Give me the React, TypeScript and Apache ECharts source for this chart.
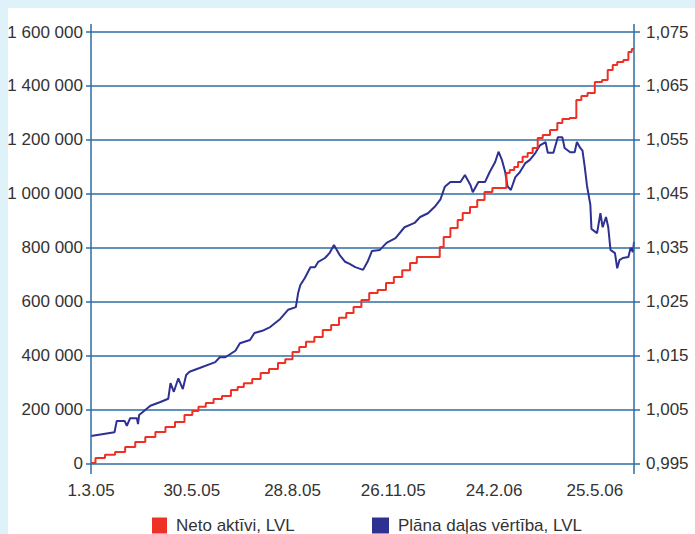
import React, { useEffect, useRef } from 'react';
import * as echarts from 'echarts';

// Day offsets are counted from 1.3.2005
const START_DATE = Date.UTC(2005, 2, 1);
const X_MAX_DAY = 485;
const X_TICK_STEP = 90;

const redName = 'Neto aktīvi, LVL';
const blueName = 'Plāna daļas vērtība, LVL';

const redDays = [0, 8, 17, 26, 35, 44, 53, 62, 71, 79, 88, 93, 99, 106, 113, 121, 129, 133, 140, 148, 155, 163, 171, 176, 184, 188, 196, 203, 211, 218, 225, 231, 238, 245, 252, 260, 267, 274, 282, 288, 294, 310, 313, 317, 325, 330, 334, 343, 347, 356, 361, 370, 372, 376, 380, 383, 388, 392, 397, 401, 406, 414, 419, 423, 432, 435, 441, 446, 454, 459, 464, 468, 472, 479, 481, 485];
const redValues = [2000, 20000, 32000, 43000, 61000, 80000, 98000, 117000, 135000, 154000, 180000, 195000, 210000, 224000, 239000, 250000, 273000, 284000, 298000, 313000, 336000, 350000, 373000, 387000, 413000, 432000, 451000, 469000, 495000, 514000, 540000, 558000, 580000, 606000, 632000, 643000, 669000, 692000, 717000, 743000, 766000, 766000, 803000, 840000, 873000, 903000, 929000, 951000, 977000, 1007000, 1022000, 1022000, 1077000, 1088000, 1099000, 1118000, 1137000, 1151000, 1170000, 1207000, 1218000, 1237000, 1263000, 1277000, 1281000, 1348000, 1363000, 1374000, 1415000, 1422000, 1459000, 1478000, 1489000, 1496000, 1526000, 1537000];

const blueDays = [0, 21, 23, 30, 32, 35, 41, 42, 43, 46, 53, 62, 69, 71, 74, 78, 82, 85, 88, 97, 111, 115, 120, 129, 133, 142, 146, 153, 160, 169, 176, 183, 185, 187, 191, 196, 200, 203, 209, 213, 217, 222, 227, 231, 236, 243, 247, 251, 258, 264, 272, 280, 289, 294, 301, 307, 312, 316, 321, 330, 334, 339, 341, 346, 352, 356, 361, 364, 367, 370, 372, 375, 379, 383, 388, 392, 397, 401, 406, 408, 413, 417, 421, 423, 428, 432, 434, 437, 439, 441, 443, 446, 447, 452, 455, 457, 460, 462, 464, 468, 470, 472, 475, 480, 482, 484, 485];
const blueValues = [1.0001, 1.0008, 1.0029, 1.0029, 1.0020, 1.0034, 1.0034, 1.0023, 1.0040, 1.0045, 1.0057, 1.0064, 1.0070, 1.0099, 1.0083, 1.0108, 1.0088, 1.0114, 1.0120, 1.0127, 1.0138, 1.0147, 1.0147, 1.0159, 1.0173, 1.0179, 1.0192, 1.0196, 1.0203, 1.0218, 1.0235, 1.0240, 1.0266, 1.0281, 1.0294, 1.0314, 1.0314, 1.0324, 1.0331, 1.0340, 1.0355, 1.0337, 1.0324, 1.0320, 1.0314, 1.0309, 1.0324, 1.0344, 1.0346, 1.0359, 1.0368, 1.0388, 1.0396, 1.0407, 1.0414, 1.0426, 1.0439, 1.0463, 1.0472, 1.0472, 1.0485, 1.0466, 1.0453, 1.0472, 1.0472, 1.0490, 1.0509, 1.0528, 1.0513, 1.0490, 1.0464, 1.0457, 1.0481, 1.0490, 1.0507, 1.0513, 1.0526, 1.0540, 1.0546, 1.0526, 1.0526, 1.0555, 1.0555, 1.0535, 1.0527, 1.0527, 1.0546, 1.0535, 1.0530, 1.0500, 1.0465, 1.0430, 1.0385, 1.0377, 1.0414, 1.0388, 1.0407, 1.0388, 1.0346, 1.0340, 1.0312, 1.0327, 1.0331, 1.0333, 1.0350, 1.0342, 1.0361];

const leftMin = 0;
const leftMax = 1600000;
const leftStep = 200000;
const rightMin = 0.995;
const rightMax = 1.075;
const rightStep = 0.01;

const FONT = "'Liberation Sans', Arial, sans-serif";
const TEXT = '#333333';
const GRID_BLUE = '#2e6ca3';
const RED = '#ee3124';
const NAVY = '#2e3192';
const PANEL_BG = '#dff1f9';

const CHART_W = 687;
const CHART_H = 526;
const G_LEFT = 83;
const G_RIGHT = 61;
const G_TOP = 24;
const G_BOTTOM = 70.5;

function fmtDay(day: number): string {
  const d = new Date(START_DATE + day * 86400000);
  return `${d.getUTCDate()}.${d.getUTCMonth() + 1}.${String(d.getUTCFullYear()).slice(2)}`;
}

function fmtThousands(v: number): string {
  return String(Math.round(v)).replace(/\B(?=(\d{3})+(?!\d))/g, ' ');
}

export default function App() {
  const ref = useRef<HTMLDivElement>(null);

  useEffect(() => {
    document.body.style.margin = '0';
    document.body.style.overflow = 'hidden';
    if (!ref.current) return;
    const chart = echarts.init(ref.current, undefined, { renderer: 'svg' });

    const axisX1 = G_LEFT;
    const axisX2 = CHART_W - G_RIGHT;
    const lineTop = G_TOP - 8;
    const lineBottom = CHART_H - G_BOTTOM + 10.5;

    const legendText = {
      fontSize: 17,
      lineHeight: 16,
      color: TEXT,
      fontFamily: FONT,
      padding: [0, 0, 0, 4],
    };

    chart.setOption({
      animation: false,
      backgroundColor: '#ffffff',
      textStyle: { fontFamily: FONT },
      grid: {
        left: G_LEFT,
        right: G_RIGHT,
        top: G_TOP,
        bottom: G_BOTTOM,
        containLabel: false,
        outerBoundsMode: 'none',
      },
      legend: [
        {
          data: [redName],
          left: 144,
          top: 509,
          padding: 0,
          icon: 'rect',
          itemWidth: 15,
          itemHeight: 16,
          selectedMode: false,
          textStyle: legendText,
        },
        {
          data: [blueName],
          left: 364,
          top: 509,
          padding: 0,
          icon: 'rect',
          itemWidth: 17,
          itemHeight: 16,
          selectedMode: false,
          textStyle: legendText,
        },
      ],
      xAxis: {
        type: 'value',
        min: 0,
        max: X_MAX_DAY,
        interval: X_TICK_STEP,
        axisLine: { show: false },
        axisTick: { show: false },
        splitLine: { show: false },
        axisLabel: {
          margin: 18,
          fontSize: 17,
          color: TEXT,
          fontFamily: FONT,
          formatter: (v: number) => (Math.round(v) % X_TICK_STEP === 0 ? fmtDay(v) : ''),
        },
      },
      yAxis: [
        {
          type: 'value',
          position: 'left',
          min: leftMin,
          max: leftMax,
          interval: leftStep,
          axisLine: { show: false },
          axisTick: { show: true, length: 5, lineStyle: { color: GRID_BLUE, width: 1.5 } },
          splitLine: { show: true, lineStyle: { color: GRID_BLUE, width: 1.5 } },
          axisLabel: {
            margin: 8,
            fontSize: 17,
            color: TEXT,
            fontFamily: FONT,
            padding: [0, 0, 10, 0],
            formatter: (v: number) => fmtThousands(v),
          },
        },
        {
          type: 'value',
          position: 'right',
          min: rightMin,
          max: rightMax,
          interval: rightStep,
          axisLine: { show: false },
          axisTick: { show: true, length: 6, lineStyle: { color: GRID_BLUE, width: 1.5 } },
          splitLine: { show: false },
          axisLabel: {
            margin: 12,
            fontSize: 17,
            color: TEXT,
            fontFamily: FONT,
            padding: [0, 0, 10, 0],
            formatter: (v: number) => v.toFixed(3).replace('.', ','),
          },
        },
      ],
      graphic: [
        {
          type: 'line',
          silent: true,
          z: 5,
          shape: { x1: axisX1, y1: lineTop, x2: axisX1, y2: lineBottom },
          style: { stroke: GRID_BLUE, lineWidth: 1.5 },
        },
        {
          type: 'line',
          silent: true,
          z: 5,
          shape: { x1: axisX2, y1: lineTop, x2: axisX2, y2: lineBottom },
          style: { stroke: GRID_BLUE, lineWidth: 1.5 },
        },
      ],
      series: [
        {
          name: blueName,
          type: 'line',
          yAxisIndex: 1,
          showSymbol: false,
          symbol: 'none',
          color: NAVY,
          itemStyle: { color: NAVY },
          lineStyle: { color: NAVY, width: 2 },
          data: blueDays.map((d, i) => [d, blueValues[i]]),
          z: 3,
        },
        {
          name: redName,
          type: 'line',
          yAxisIndex: 0,
          step: 'middle',
          showSymbol: false,
          symbol: 'none',
          color: RED,
          itemStyle: { color: RED },
          lineStyle: { color: RED, width: 2 },
          data: redDays.map((d, i) => [d, redValues[i]]),
          z: 4,
        },
      ],
    });

    return () => {
      chart.dispose();
    };
  }, []);

  return (
    <div style={{ position: 'relative', width: 695, height: 534, background: PANEL_BG, overflow: 'hidden' }}>
      <div
        ref={ref}
        style={{ position: 'absolute', left: 8, top: 8, width: CHART_W, height: CHART_H, background: '#ffffff' }}
      />
    </div>
  );
}
